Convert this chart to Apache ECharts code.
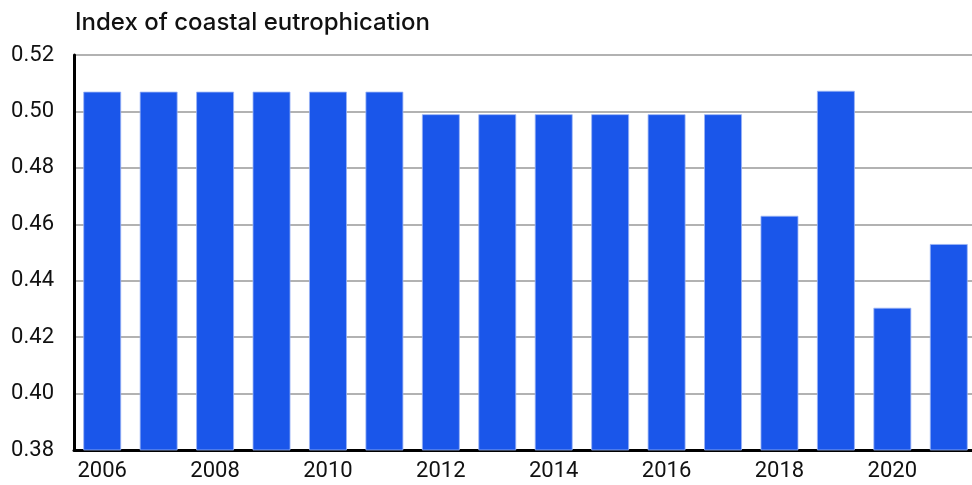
<!DOCTYPE html>
<html><head><meta charset="utf-8">
<script src="https://cdn.jsdelivr.net/npm/echarts@6/dist/echarts.min.js"></script>
<style>html,body{margin:0;padding:0;background:#fff}#c{width:972px;height:485px}</style>
</head><body><div id="c"></div>
<script>
const years = ['2006','2007','2008','2009','2010','2011','2012','2013','2014','2015','2016','2017','2018','2019','2020','2021'];
const values = [0.507,0.507,0.507,0.507,0.507,0.507,0.499,0.499,0.499,0.499,0.499,0.499,0.463,0.5073,0.4304,0.453];
const yTicks = {min:0.38, max:0.52, step:0.02};
const titleText = 'Index of coastal eutrophication';
const TICKFONT = "Roboto,sans-serif";
const TITLEFONT = "Inter,Roboto,sans-serif";
const chart = echarts.init(document.getElementById('c'), null, {renderer:'canvas'});
chart.setOption({
  animation:false,
  title:{text:titleText,left:70,top:6,textStyle:{fontFamily:TITLEFONT,fontSize:24,fontWeight:500,color:'#111'}},
  grid:{left:74,right:-5,top:55,bottom:35,containLabel:false,outerBoundsMode:'none'},
  xAxis:{type:'category',data:years,
    axisLine:{lineStyle:{color:'#000',width:3}},
    axisTick:{show:false},
    axisLabel:{interval:1,fontFamily:TICKFONT,fontSize:22,color:'#111',margin:10}},
  yAxis:{type:'value',min:yTicks.min,max:yTicks.max,interval:yTicks.step,
    axisLine:{show:true,lineStyle:{color:'#000',width:3}},
    axisTick:{show:false},
    axisLabel:{fontFamily:TICKFONT,fontSize:22,color:'#111',margin:20,formatter:v=>v.toFixed(2)},
    splitLine:{lineStyle:{color:'#999',width:1.5}}},
  series:[{type:'bar',data:values,barCategoryGap:'33%',
    itemStyle:{color:'#1a56ea',borderColor:'#9ab4f5',borderWidth:0.8}}]
});
</script></body></html>
